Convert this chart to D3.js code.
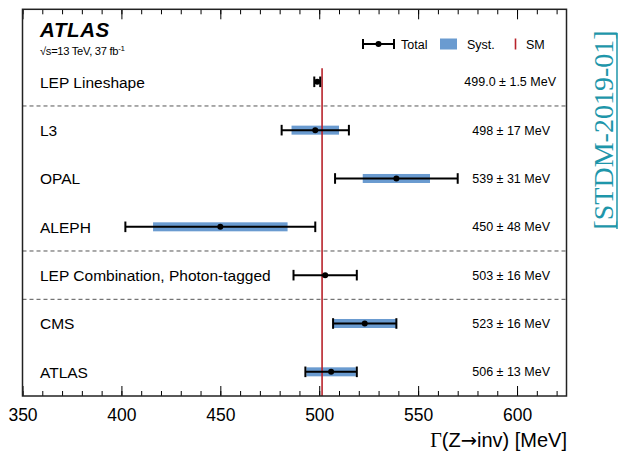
<!DOCTYPE html>
<html>
<head>
<meta charset="utf-8">
<script src="https://cdn.jsdelivr.net/npm/d3@7"></script>
<style>
  html, body { margin: 0; padding: 0; background: #fff; }
  svg { display: block; font-family: "Liberation Sans", Arial, Helvetica, sans-serif; }
</style>
</head>
<body>
<svg id="chart" width="620" height="452"></svg>
<script>
// ---------------- data ----------------
const categories = ["LEP Lineshape", "L3", "OPAL", "ALEPH", "LEP Combination, Photon-tagged", "CMS", "ATLAS"];
const centralValues = [499.0, 498, 539, 450, 503, 523, 506];
const totalErrors = [1.5, 17, 31, 48, 16, 16, 13];
const systErrors = [null, 12, 17, 34, null, 16, 12.5];
const valueLabels = ["499.0 \u00b1 1.5 MeV", "498 \u00b1 17 MeV", "539 \u00b1 31 MeV", "450 \u00b1 48 MeV",
                     "503 \u00b1 16 MeV", "523 \u00b1 16 MeV", "506 \u00b1 13 MeV"];
const separatorsAfter = [0, 3, 4];
const smValue = 501.44;
const majorTicks = [350, 400, 450, 500, 550, 600];
const minorTicks = d3.range(350, 626, 10);
const xDomain = [350, 625];

// ---------------- layout ----------------
const svg = d3.select("#chart");
const L = 22.5, R = 566.5, T = 9.3, B = 396;
const x = d3.scaleLinear().domain(xDomain).range([L, R]);
const y = d3.scaleLinear().domain([-1.5, 6.5]).range([T, B]);

const SYST = "#6a9bd0";
const SMRED = "#b8232b";

svg.append("rect").attr("width", 620).attr("height", 452).attr("fill", "#fff");

// separators
svg.append("g").selectAll("line").data(separatorsAfter).join("line")
  .attr("x1", L).attr("x2", R)
  .attr("y1", d => y(d + 0.5)).attr("y2", d => y(d + 0.5))
  .attr("stroke", "#555").attr("stroke-width", 1).attr("stroke-dasharray", "4,3");

// syst bands
const rows = categories.map((c, i) => ({ c, i, v: centralValues[i], t: totalErrors[i], s: systErrors[i], lab: valueLabels[i] }));
svg.append("g").selectAll("rect").data(rows.filter(d => d.s != null)).join("rect")
  .attr("x", d => x(d.v - d.s)).attr("width", d => x(d.v + d.s) - x(d.v - d.s))
  .attr("y", d => y(d.i) - 4.5).attr("height", 9)
  .attr("fill", SYST);

// SM line
svg.append("line")
  .attr("x1", x(smValue)).attr("x2", x(smValue))
  .attr("y1", y(-0.28)).attr("y2", B)
  .attr("stroke", SMRED).attr("stroke-width", 1.6);

// error bars
const eb = svg.append("g").selectAll("g").data(rows).join("g");
eb.append("line")
  .attr("x1", d => x(d.v - d.t)).attr("x2", d => x(d.v + d.t))
  .attr("y1", d => y(d.i)).attr("y2", d => y(d.i))
  .attr("stroke", "#000").attr("stroke-width", 2);
eb.append("line")
  .attr("x1", d => x(d.v - d.t)).attr("x2", d => x(d.v - d.t))
  .attr("y1", d => y(d.i) - 5.3).attr("y2", d => y(d.i) + 5.3)
  .attr("stroke", "#000").attr("stroke-width", 2);
eb.append("line")
  .attr("x1", d => x(d.v + d.t)).attr("x2", d => x(d.v + d.t))
  .attr("y1", d => y(d.i) - 5.3).attr("y2", d => y(d.i) + 5.3)
  .attr("stroke", "#000").attr("stroke-width", 2);
eb.append("circle")
  .attr("cx", d => x(d.v)).attr("cy", d => y(d.i)).attr("r", 3)
  .attr("fill", "#000");

// row labels
svg.append("g").selectAll("text").data(rows).join("text")
  .attr("x", 40).attr("y", d => y(d.i) + 5.8)
  .attr("font-size", 15.5).attr("fill", "#000")
  .text(d => d.c);

// value labels
svg.append("g").selectAll("text").data(rows).join("text")
  .attr("x", d => d.i === 0 ? 556 : 550).attr("y", d => y(d.i) + 4.6)
  .attr("text-anchor", "end")
  .attr("font-size", 12.5).attr("fill", "#000")
  .text(d => d.lab);

// axes
const gB = svg.append("g").attr("transform", `translate(0,${B})`);
gB.call(d3.axisBottom(x).tickValues(minorTicks).tickSize(-5).tickSizeOuter(0).tickFormat(""));
gB.call(g => g.select(".domain").remove());
const gB2 = svg.append("g").attr("transform", `translate(0,${B})`);
gB2.call(d3.axisBottom(x).tickValues(majorTicks).tickSize(-10).tickSizeOuter(0).tickFormat(d3.format("d")));
gB2.select(".domain").remove();
gB2.selectAll("text").attr("y", 25).attr("dy", null)
  .attr("font-size", 17.5).attr("font-family", "Liberation Sans, Arial, sans-serif").attr("fill", "#000");

const gT = svg.append("g").attr("transform", `translate(0,${T})`);
gT.call(d3.axisTop(x).tickValues(minorTicks).tickSize(-5).tickSizeOuter(0).tickFormat(""));
gT.select(".domain").remove();
const gT2 = svg.append("g").attr("transform", `translate(0,${T})`);
gT2.call(d3.axisTop(x).tickValues(majorTicks).tickSize(-10).tickSizeOuter(0).tickFormat(""));
gT2.select(".domain").remove();
svg.selectAll(".tick line").attr("stroke", "#000").attr("stroke-width", 1);

// frame
svg.append("rect").attr("x", L).attr("y", T).attr("width", R - L).attr("height", B - T)
  .attr("fill", "none").attr("stroke", "#222").attr("stroke-width", 1.5);

// axis title
const title = svg.append("text").attr("x", 567).attr("y", 447).attr("text-anchor", "end")
  .attr("font-size", 20).attr("fill", "#000");
title.append("tspan").attr("font-family", "Liberation Serif, Times New Roman, serif").text("\u0393");
title.append("tspan").text("(Z");
title.append("tspan").attr("font-family", "DejaVu Sans, sans-serif").attr("font-size", 19.5).text("\u2192");
title.append("tspan").text("inv) [MeV]");

// ATLAS label
svg.append("text").attr("x", 40).attr("y", 37).attr("font-size", 20.5)
  .attr("font-weight", "bold").attr("font-style", "italic").attr("letter-spacing", 0.6).text("ATLAS");
const sub = svg.append("text").attr("x", 40).attr("y", 55).attr("font-size", 11.2).attr("letter-spacing", -0.3);
sub.append("tspan").text("\u221As=13 TeV, 37 fb");
sub.append("tspan").attr("dy", -4.5).attr("font-size", 8).text("-1");

// legend
const ly = 44;
const lg = svg.append("g");
lg.append("line").attr("x1", 363).attr("x2", 394).attr("y1", ly).attr("y2", ly).attr("stroke", "#000").attr("stroke-width", 2);
lg.append("line").attr("x1", 363).attr("x2", 363).attr("y1", ly - 5).attr("y2", ly + 5).attr("stroke", "#000").attr("stroke-width", 2);
lg.append("line").attr("x1", 394).attr("x2", 394).attr("y1", ly - 5).attr("y2", ly + 5).attr("stroke", "#000").attr("stroke-width", 2);
lg.append("circle").attr("cx", 378.5).attr("cy", ly).attr("r", 3).attr("fill", "#000");
lg.append("text").attr("x", 401).attr("y", ly + 5).attr("font-size", 12.5).text("Total");
lg.append("rect").attr("x", 440).attr("y", ly - 5.5).attr("width", 17).attr("height", 11).attr("fill", SYST);
lg.append("text").attr("x", 467).attr("y", ly + 5).attr("font-size", 12.5).text("Syst.");
lg.append("line").attr("x1", 515.5).attr("x2", 515.5).attr("y1", ly - 5.5).attr("y2", ly + 5.5).attr("stroke", SMRED).attr("stroke-width", 1.6);
lg.append("text").attr("x", 526).attr("y", ly + 5).attr("font-size", 12.5).text("SM");

// side reference label
const sx = 613, sy = 130;
svg.append("text").attr("transform", `translate(${sx},${sy}) rotate(-90)`)
  .attr("text-anchor", "middle").attr("font-family", "Liberation Serif, Times New Roman, serif")
  .attr("font-size", 28).attr("fill", "#1e96aa").text("[STDM-2019-01]");
svg.append("line").attr("x1", 617).attr("x2", 617).attr("y1", 33).attr("y2", 229)
  .attr("stroke", "#1e96aa").attr("stroke-width", 1.5);
</script>
</body>
</html>
